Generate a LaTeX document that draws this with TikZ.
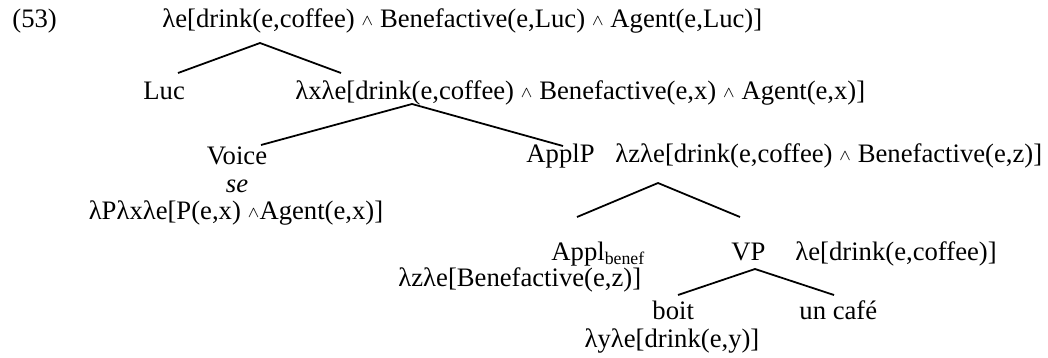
\documentclass[tikz,border=0pt]{standalone}
\usepackage{fontspec}
\setmainfont{Liberation Serif}
\newcommand{\conj}{\raisebox{0.6pt}{\fontsize{7}{7}\selectfont$\wedge$}}

\begin{document}
\begin{tikzpicture}[
    x=0.45pt, y=-0.45pt,
    txt/.style={anchor=base west, inner sep=0pt, font=\fontsize{12}{14}\selectfont},
    ctxt/.style={txt, anchor=base},
    branch/.style={line width=0.8pt}
]
    \useasboundingbox (0,0) rectangle (1048,357);

    % labels of the tree
    \node[txt] (num)      at (12,27)   {(53)};
    \node[txt] (root)     at (162,27)  {λe[drink(e,coffee) \conj{} Benefactive(e,Luc) \conj{} Agent(e,Luc)]};
    \node[txt] (luc)      at (143,99)  {Luc};
    \node[txt] (xe)       at (295,99)  {λxλe[drink(e,coffee) \conj{} Benefactive(e,x) \conj{} Agent(e,x)]};
    \node[ctxt] (voice)   at (237,164) {Voice};
    \node[ctxt] (se)      at (237,192) {\textit{se}};
    \node[ctxt] (voicesem) at (236,219) {λPλxλe[P(e,x) \conj{}Agent(e,x)]};
    \node[txt] (applp)    at (526,162) {ApplP};
    \node[txt] (applpsem) at (615,162) {λzλe[drink(e,coffee) \conj{} Benefactive(e,z)]};
    \node[txt] (appl)     at (551,260) {Appl\textsubscript{benef}};
    \node[txt] (applsem)  at (398,286) {λzλe[Benefactive(e,z)]};
    \node[txt] (vp)       at (731,260) {VP};
    \node[txt] (vpsem)    at (795,260) {λe[drink(e,coffee)]};
    \node[txt] (boit)     at (652,319) {boit};
    \node[txt] (cafe)     at (799,319) {un café};
    \node[ctxt] (boitsem) at (672,347) {λyλe[drink(e,y)]};

    % branch points
    \coordinate (top)       at (260,43);
    \coordinate (top-l)     at (178,73);
    \coordinate (top-r)     at (341,73);
    \coordinate (xe-top)    at (412,104);
    \coordinate (xe-l)      at (261,145);
    \coordinate (xe-r)      at (563,146);
    \coordinate (applp-top) at (658,183);
    \coordinate (applp-l)   at (577,217);
    \coordinate (applp-r)   at (740,217);
    \coordinate (vp-top)    at (755,269);
    \coordinate (vp-l)      at (678,295);
    \coordinate (vp-r)      at (834,295);

    \draw[branch] (top-l) -- (top) -- (top-r);
    \draw[branch] (xe-l) -- (xe-top) -- (xe-r);
    \draw[branch] (applp-l) -- (applp-top) -- (applp-r);
    \draw[branch] (vp-l) -- (vp-top) -- (vp-r);
\end{tikzpicture}
\end{document}
